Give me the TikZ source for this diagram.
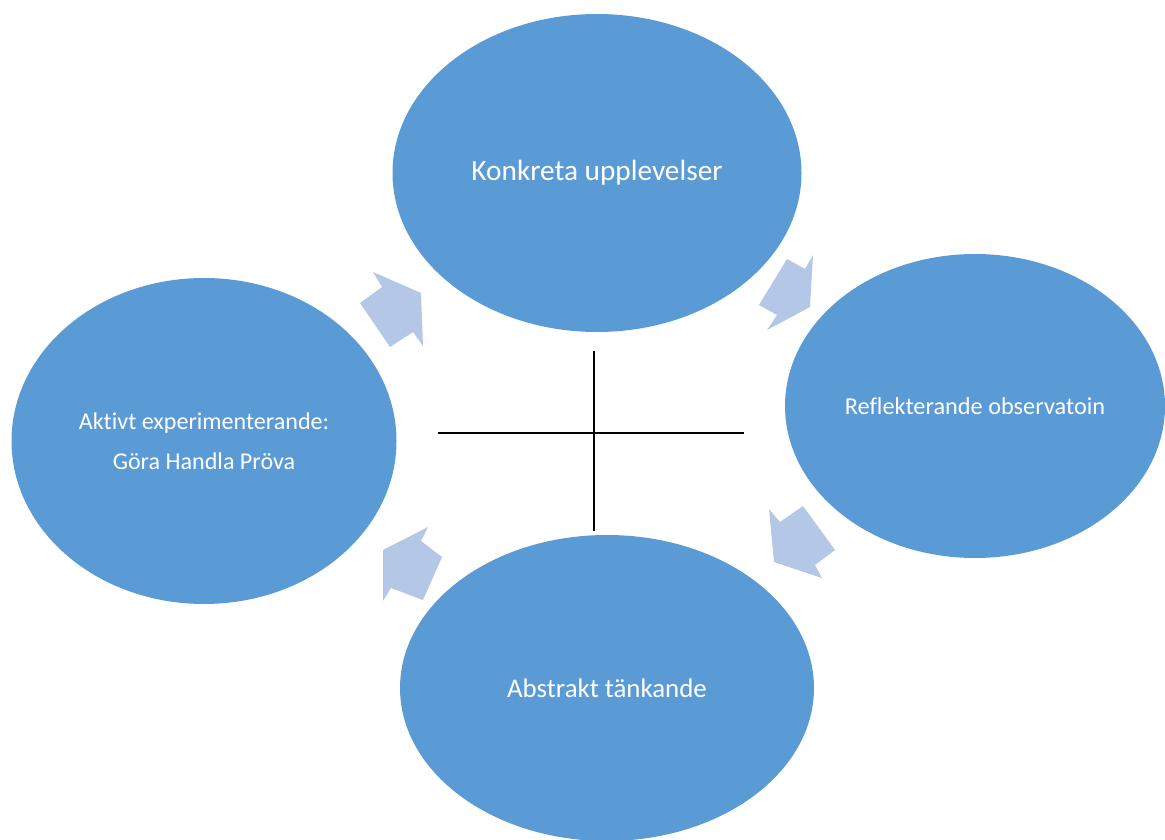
\documentclass[tikz,border=0pt]{standalone}
\usepackage{fontspec}
\setmainfont[Ligatures=CommonOff]{Carlito}
\usepackage{tikz}
\usetikzlibrary{shapes.geometric,positioning}
\definecolor{cykelBla}  {RGB}{91, 155, 213}
\definecolor{pilBla}    {RGB}{180, 199, 231}

\begin{document}
\begin{tikzpicture}[x=1pt,y=-1pt,
    cirkel/.style={ellipse,fill=cykelBla,draw=none,inner sep=0pt,
                   text=white,align=center},
    pil/.style={fill=pilBla,draw=none}]
        \useasboundingbox (0,0) rectangle (1165,840);

        % Kors i mitten
        \draw[black,line width=1.1pt] (594,351)--(594,531);
        \draw[black,line width=1.1pt] (438,433)--(744,433);

        % Cirklar
        \node[cirkel,minimum width=409pt,minimum height=318pt,
              font=\fontsize{29.3}{34}\selectfont] (konkret) at (597,173)
          {Konkreta upplevelser};
        \node[cirkel,minimum width=380pt,minimum height=304pt,
              font=\fontsize{24.3}{28}\selectfont] (reflekt) at (975,406)
          {Reflekterande observatoin};
        \node[cirkel,minimum width=414pt,minimum height=306pt,
              font=\fontsize{26.9}{31}\selectfont] (abstrakt) at (607,688)
          {Abstrakt tänkande};
        \node[cirkel,minimum width=385pt,minimum height=326pt,
              font=\fontsize{24.1}{40}\selectfont] (aktivt) at (204,441)
          {Aktivt experimenterande:\\Göra Handla Pröva};

        % Pilar
        \fill[pil] (360,303)--(382,287)--(373,272)--(421,293)
                   --(423,346)--(413,332)--(390,347)--cycle;
        \fill[pil] (787,259)--(805,269)--(813,255)--(810,307)
                   --(767,330)--(777,315)--(759,305)--cycle;
        \fill[pil] (769,509)--(780,522)--(803,506)--(835,550)
                   --(815,565)--(822,578)--(774,562)--cycle;
        \fill[pil] (428,527)--(421,541)--(442,557)--(423,600)
                   --(391,588)--(383,601)--(383,550)--cycle;
      \end{tikzpicture}
\end{document}
